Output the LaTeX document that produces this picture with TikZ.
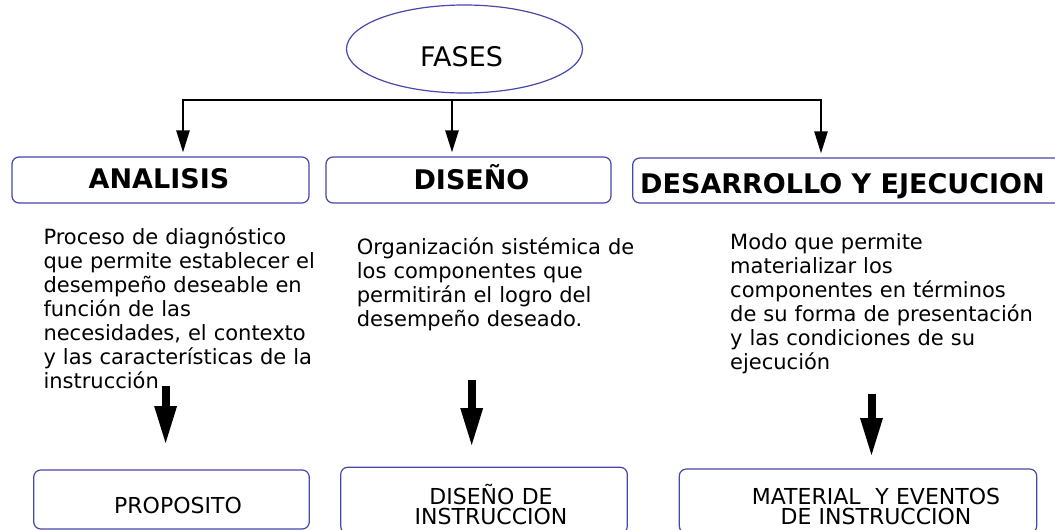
\documentclass[tikz,border=0pt]{standalone}
\usepackage{fontspec}
\setmainfont{DejaVu Sans}
\usetikzlibrary{arrows.meta,shapes.geometric}
\definecolor{boxblue}{RGB}{72,72,168}
\begin{document}
\begin{tikzpicture}[x=1pt,y=-1pt,
  box/.style={draw=boxblue,line width=1.2pt,rounded corners=7pt,inner sep=0pt},
  ttl/.style={font=\fontsize{27}{32}\selectfont\bfseries,anchor=base,inner sep=0pt},
  para/.style={anchor=base west,inner sep=0pt,text width=330pt,align=left,font=\fontsize{21}{24}\selectfont},
  lbl/.style={anchor=base,inner sep=0pt,text width=300pt,align=center,font=\fontsize{22}{20.5}\selectfont},
  thintip/.style={Triangle[length=22pt,width=13pt]},
  thinline/.style={line width=2.5pt,line join=miter},
  thickarrow/.style={line width=8pt,-{Triangle[length=37pt,width=23pt,line width=0pt]}}]
\useasboundingbox[fill=white] (0,0) rectangle (1055,530);

% ellipse
\node[ellipse,draw=boxblue,line width=1.2pt,minimum width=236pt,minimum height=88pt,inner sep=0pt] (fases) at (464.5,49) {};
\node[anchor=base,inner sep=0pt,font=\fontsize{27}{32}\selectfont] (fasestxt) at (461.5,66) {FASES};

% top boxes
\node[box,minimum width=297pt,minimum height=46pt] (analisis) at (160.5,180) {};
\node[ttl] (analisisT) at (159,188.5) {ANALISIS};
\node[box,minimum width=285pt,minimum height=46pt] (diseno) at (468.5,180) {};
\node[ttl] (disenoT) at (471.5,189) {DISEÑO};
\node[box,minimum width=440pt,minimum height=45pt] (desarrollo) at (852.7,180.5) {};
\node[ttl] (desarrolloT) at (842.5,193) {DESARROLLO Y EJECUCION};

% connectors from bar
\coordinate (barL) at (183,100);
\coordinate (barM) at (452,100);
\coordinate (barR) at (821,100);
\draw[thinline,{Triangle[length=22pt,width=13pt]}-{Triangle[length=22pt,width=13pt]}]
  ([yshift=4pt]analisis.north -| barL) -- (barL) -- (barR) -- ([yshift=4pt]desarrollo.north -| barR);
\draw[thinline,-{Triangle[length=22pt,width=13pt]}] (barM) -- ([yshift=4pt]diseno.north -| barM);

% paragraphs
\node[para] (p1) at (43.3,244.3) {Proceso de diagnóstico\\que permite establecer el\\desempeño deseable en\\función de las\\necesidades, el contexto\\y las características de la\\instrucción};
\node[para] (p2) at (356.7,254) {Organización sistémica de\\los componentes que\\permitirán el logro del\\desempeño deseado.};
\node[para] (p3) at (730,249.3) {Modo que permite\\materializar los\\componentes en términos\\de su forma de presentación\\y las condiciones de su\\ejecución};

% thick arrows
\coordinate (k1s) at (165.6,386);
\coordinate (k1e) at (165.6,443);
\coordinate (k2s) at (471.7,380);
\coordinate (k2e) at (471.7,445);
\coordinate (k3s) at (871.5,394);
\coordinate (k3e) at (871.5,455);
\draw[thickarrow] (k1s) -- (k1e);
\draw[thickarrow] (k2s) -- (k2e);
\draw[thickarrow] (k3s) -- (k3e);

% bottom boxes
\node[box,minimum width=275.5pt,minimum height=59pt] (proposito) at (171.5,499.5) {};
\node[lbl] (propositoT) at (178,513.8) {PROPOSITO};
\node[box,minimum width=286.6pt,minimum height=66pt] (disinst) at (484,500.3) {};
\node[lbl] (disinstT) at (491,504.3) {DISEÑO DE\\INSTRUCCION};
\node[box,minimum width=357.4pt,minimum height=64pt] (material) at (858,501) {};
\node[lbl] (materialT) at (876,504.3) {MATERIAL\ \ Y EVENTOS\\DE INSTRUCCION};
\end{tikzpicture}
\end{document}
